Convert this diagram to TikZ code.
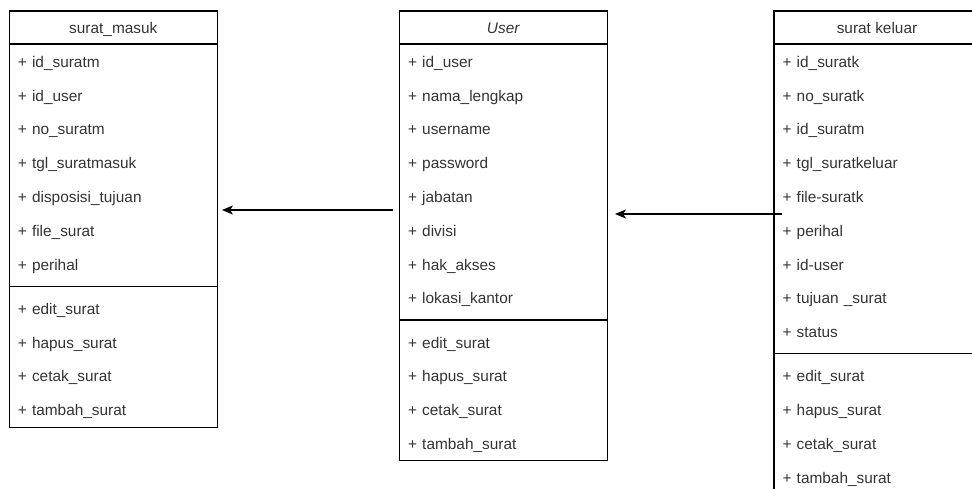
\documentclass[tikz,border=0pt]{standalone}
\usepackage{fontspec}
\setmainfont{Liberation Sans}
\usepackage{tikz}
\usetikzlibrary{positioning}
\usetikzlibrary{arrows.meta}
\definecolor{txtgray}{HTML}{333333}
\tikzstyle{classbox} = [draw=black, line width=1.3pt]
\tikzstyle{title} = [inner sep=0pt, text height=11pt, text depth=3pt, font=\fontsize{15.4}{18}\selectfont, text=txtgray]
\tikzstyle{field} = [inner sep=0pt, text width=190pt, align=left, text height=11pt, text depth=3pt, font=\fontsize{15.4}{18}\selectfont, text=txtgray]
\tikzstyle{link} = [-{Stealth[length=11pt,width=9pt,inset=3pt]}, line width=1.3pt, black]

\begin{document}
\begin{tikzpicture}[x=1pt, y=-1pt, node distance=33.8pt]
                        \useasboundingbox (0,0) rectangle (972,489);
                        \clip (0,0) rectangle (972,489);

                        % surat_masuk
                        \draw[classbox] (9.3,11) rectangle (217.3,427.3);
                        \draw[classbox] (9.3,44) -- (217.3,44);
                        \draw[classbox] (9.3,286.5) -- (217.3,286.5);
                        \node[title](masuk) at (113.3,29.3) {surat\_masuk};
                        \node[field, anchor=west](m1) at (17.7,63.3) {+ id\_suratm};
                        \node[field, below of=m1](m2) {+ id\_user};
                        \node[field, below of=m2](m3) {+ no\_suratm};
                        \node[field, below of=m3](m4) {+ tgl\_suratmasuk};
                        \node[field, below of=m4](m5) {+ disposisi\_tujuan};
                        \node[field, below of=m5](m6) {+ file\_surat};
                        \node[field, below of=m6](m7) {+ perihal};
                        \node[field, below of=m7, node distance=44.2pt](m8) {+ edit\_surat};
                        \node[field, below of=m8](m9) {+ hapus\_surat};
                        \node[field, below of=m9](m10) {+ cetak\_surat};
                        \node[field, below of=m10](m11) {+ tambah\_surat};

                        % User
                        \draw[classbox] (399.5,11) rectangle (607.5,460.7);
                        \draw[classbox] (399.5,44) -- (607.5,44);
                        \draw[classbox] (399.5,320) -- (607.5,320);
                        \node[title](user) at (503.5,29.3) {\textit{User}};
                        \node[field, anchor=west](u1) at (407.9,63.3) {+ id\_user};
                        \node[field, below of=u1](u2) {+ nama\_lengkap};
                        \node[field, below of=u2](u3) {+ username};
                        \node[field, below of=u3](u4) {+ password};
                        \node[field, below of=u4](u5) {+ jabatan};
                        \node[field, below of=u5](u6) {+ divisi};
                        \node[field, below of=u6](u7) {+ hak\_akses};
                        \node[field, below of=u7](u8) {+ lokasi\_kantor};
                        \node[field, below of=u8, node distance=44.2pt](u9) {+ edit\_surat};
                        \node[field, below of=u9](u10) {+ hapus\_surat};
                        \node[field, below of=u10](u11) {+ cetak\_surat};
                        \node[field, below of=u11](u12) {+ tambah\_surat};

                        % surat keluar
                        \draw[classbox] (774,11) rectangle (980,494);
                        \draw[classbox] (774,44) -- (980,44);
                        \draw[classbox] (774,353.4) -- (980,353.4);
                        \node[title](keluar) at (877,29.3) {surat keluar};
                        \node[field, anchor=west](k1) at (782.4,63.3) {+ id\_suratk};
                        \node[field, below of=k1](k2) {+ no\_suratk};
                        \node[field, below of=k2](k3) {+ id\_suratm};
                        \node[field, below of=k3](k4) {+ tgl\_suratkeluar};
                        \node[field, below of=k4](k5) {+ file-suratk};
                        \node[field, below of=k5](k6) {+ perihal};
                        \node[field, below of=k6](k7) {+ id-user};
                        \node[field, below of=k7](k8) {+ tujuan \_surat};
                        \node[field, below of=k8](k9) {+ status};
                        \node[field, below of=k9, node distance=44.2pt](k10) {+ edit\_surat};
                        \node[field, below of=k10](k11) {+ hapus\_surat};
                        \node[field, below of=k11](k12) {+ cetak\_surat};
                        \node[field, below of=k12](k13) {+ tambah\_surat};

                        % relasi
                        \coordinate (userout) at (393,210);
                        \coordinate (masukin) at (222,210);
                        \coordinate (keluarout) at (782,214);
                        \coordinate (userin) at (615,214);
                        \draw[link](userout) -- (masukin);
                        \draw[link](keluarout) -- (userin);
                    \end{tikzpicture}
\end{document}
